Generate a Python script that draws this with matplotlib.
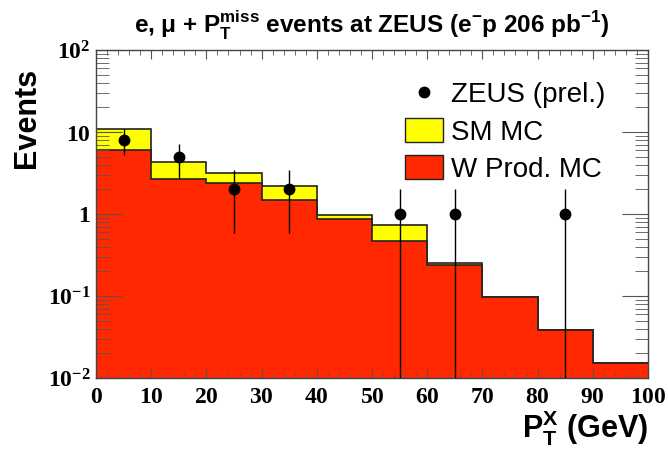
import numpy as np
import matplotlib
matplotlib.use("Agg")
import matplotlib.pyplot as plt
from matplotlib.lines import Line2D
from matplotlib.patches import Patch
from matplotlib.ticker import MultipleLocator, LogLocator, NullFormatter

plt.rcParams["font.family"] = ["Liberation Sans", "DejaVu Sans"]
plt.rcParams["mathtext.fontset"] = "custom"
plt.rcParams["mathtext.rm"] = "Liberation Serif:bold"
plt.rcParams["mathtext.bf"] = "Liberation Serif:bold"
plt.rcParams["mathtext.sf"] = "Liberation Sans:bold"

# --- data ---
bin_edges = [0, 10, 20, 30, 40, 50, 60, 70, 80, 90, 100]
sm_mc = [10.9, 4.3, 3.15, 2.2, 0.97, 0.73, 0.25, 0.097, 0.038, 0.0152]
w_prod_mc = [6.0, 2.65, 2.4, 1.48, 0.87, 0.47, 0.24, 0.096, 0.038, 0.0152]

data_x = [5, 15, 25, 35, 55, 65, 85]
data_y = [8, 5, 2, 2, 1, 1, 1]
data_err_lo = [2.83, 2.24, 1.41, 1.41, 1.0, 1.0, 1.0]
data_err_hi = [2.83, 2.24, 1.41, 1.41, 1.0, 1.0, 1.0]

x_ticks = [0, 10, 20, 30, 40, 50, 60, 70, 80, 90, 100]
y_ticks = [0.01, 0.1, 1, 10, 100]
y_ticklabels = [r"$\mathbf{10^{-2}}$", r"$\mathbf{10^{-1}}$", r"$\mathbf{1}$",
                r"$\mathbf{10}$", r"$\mathbf{10^{2}}$"]

yellow = "#ffff00"
red = "#ff2800"

fig = plt.figure(figsize=(6.68, 4.51), dpi=100)
ax = fig.add_axes([0.1437, 0.1619, 0.8263, 0.7272])
ax.set_yscale("log")

# stacked MC histograms
ax.stairs(sm_mc, bin_edges, fill=True, color=yellow, baseline=1e-3)
ax.stairs(sm_mc, bin_edges, color="#222222", lw=1.2, baseline=None)
ax.stairs(w_prod_mc, bin_edges, fill=True, color=red, baseline=1e-3)
ax.stairs(w_prod_mc, bin_edges, color="#222222", lw=1.2, baseline=None)

# data
ax.errorbar(data_x, data_y, yerr=[data_err_lo, data_err_hi], fmt="o",
            color="black", ms=7.5, elinewidth=1.0, capsize=0, zorder=5)

ax.set_xlim(0, 100)
ax.set_ylim(0.01, 100)

ax.set_xticks(x_ticks)
ax.set_xticklabels([rf"$\mathbf{{{t}}}$" for t in x_ticks])
ax.xaxis.set_minor_locator(MultipleLocator(2))
ax.set_yticks(y_ticks)
ax.set_yticklabels(y_ticklabels)
ax.yaxis.set_minor_locator(LogLocator(base=10, subs=np.arange(2, 10)))
ax.yaxis.set_minor_formatter(NullFormatter())

ax.tick_params(which="both", direction="in", top=True, right=True,
               labelsize=17, color="#555555")
ax.tick_params(axis="x", which="major", length=6.5, pad=6)
ax.tick_params(axis="x", which="minor", length=3.5)
ax.tick_params(axis="y", which="major", length=19, pad=4)
ax.tick_params(axis="y", which="minor", length=9.5)
for s in ax.spines.values():
    s.set_color("#444444")
    s.set_linewidth(1.0)

ax.set_title(r"e, μ + $\mathsf{P}_{\mathsf{T}}^{\mathsf{miss}}$ events at ZEUS "
             r"(e$^{\mathsf{-}}$p 206 pb$^{\mathsf{-1}}$)",
             fontsize=17.5, fontweight="bold", pad=12)

ax.set_xlabel(r"$\mathsf{P}_{\mathsf{T}}^{\mathsf{X}}$ (GeV)", fontsize=22,
              fontweight="bold", loc="right", labelpad=0)
ax.set_ylabel("Events", fontsize=22, fontweight="bold")
ax.yaxis.set_label_coords(-0.098, 0.794)

handles = [
    Line2D([], [], marker="o", color="black", ls="none", ms=7.5),
    Patch(facecolor=yellow, edgecolor="#222222", lw=1.0),
    Patch(facecolor=red, edgecolor="#222222", lw=1.0),
]
labels = ["ZEUS (prel.)", "SM MC", "W Prod. MC"]
ax.legend(handles, labels, loc="upper left", bbox_to_anchor=(0.54, 0.94),
          frameon=False, fontsize=20, handlelength=1.35, handleheight=0.95,
          handletextpad=0.3, labelspacing=0.35, borderaxespad=0)

fig.savefig("out.png", dpi=100)
